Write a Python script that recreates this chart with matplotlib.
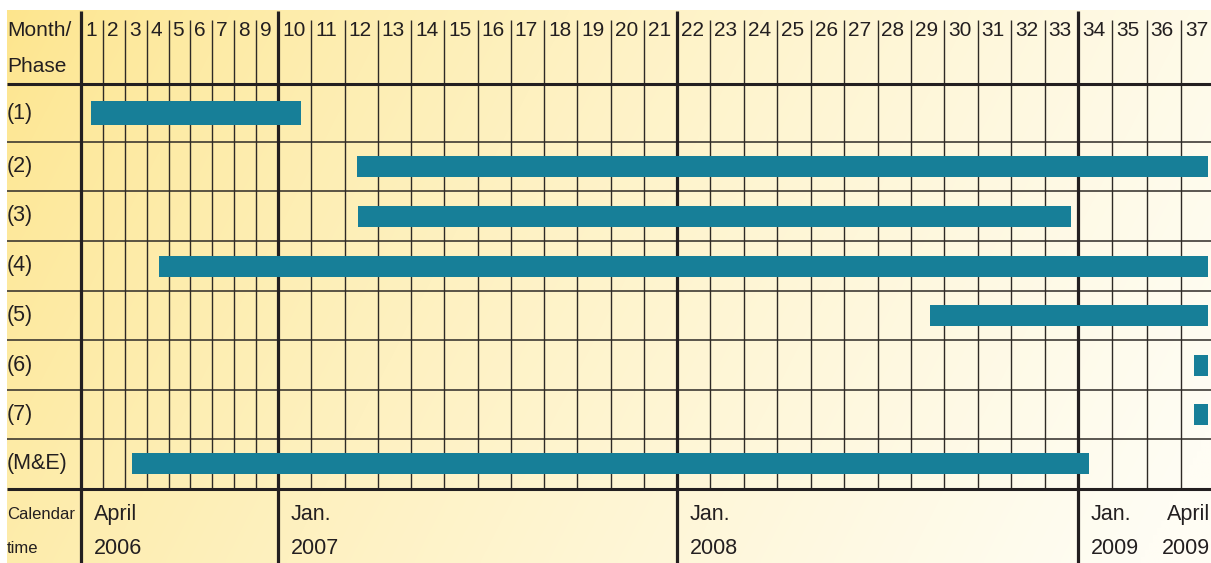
import numpy as np
import matplotlib
matplotlib.use('Agg')
import matplotlib.pyplot as plt
from matplotlib.transforms import offset_copy

# project phases, bars given in project months (month 1 spans 0..1)
phases = ['(1)', '(2)', '(3)', '(4)', '(5)', '(6)', '(7)', '(M&E)']
start_month = [0.46, 11.38, 11.41, 3.56, 28.57, 36.38, 36.38, 2.33]
end_month = [9.69, 36.81, 32.79, 36.81, 36.81, 36.81, 36.81, 33.32]

month_labels = [str(m) for m in range(1, 38)]
year_breaks = [0, 9, 21, 33]
calendar_pos = [0, 9, 21, 33, 37]
calendar_top = ['April', 'Jan.', 'Jan.', 'Jan.', 'April']
calendar_bottom = ['2006', '2007', '2008', '2009', '2009']

W, H = 1211, 563
BAR_COLOR = '#177f98'
LINE = '#231f20'
FONT = ['Liberation Sans', 'DejaVu Sans']

# layout: months 1-9 are drawn narrower than the rest
x_knots = [-3, 0, 9, 21, 33, 37]
x_px = [7, 81, 278, 677, 1078, 1215]
# rows: header, 8 phases, calendar
y_knots = list(range(11))
y_px = [10, 84, 142, 191, 241, 291, 340, 390, 439, 489, 563]


def fwd_x(m):
    return np.interp(m, x_knots, x_px)


def inv_x(p):
    return np.interp(p, x_px, x_knots)


def fwd_y(r):
    return np.interp(r, y_knots, y_px)


def inv_y(p):
    return np.interp(p, y_px, y_knots)


fig = plt.figure(figsize=(W / 100, H / 100), dpi=100, facecolor='white')
pos = [7 / W, 0, (W - 7) / W, (H - 10) / H]

# yellow gradient background
bg = fig.add_axes(pos, zorder=0)
bg.set_axis_off()
xx, yy = np.meshgrid(np.linspace(0, 1, 300), np.linspace(0, 1, 150))
t = np.clip(0.85 * xx + 0.2 * yy, 0, 1) ** 0.75
c0 = np.array([253, 229, 140]) / 255
c1 = np.array([255, 253, 244]) / 255
grad = c0[None, None, :] * (1 - t[..., None]) + c1[None, None, :] * t[..., None]
bg.imshow(grad, extent=[0, 1, 0, 1], aspect='auto', interpolation='bilinear')

ax = fig.add_axes(pos, zorder=1)
ax.patch.set_alpha(0)
ax.set_xscale('function', functions=(fwd_x, inv_x))
ax.set_yscale('function', functions=(fwd_y, inv_y))
x_right = inv_x(W)
ax.set_xlim(-3, x_right)
ax.set_ylim(10, 0)
ax.set_axis_off()

# grid
thin_months = [m for m in range(1, 37) if m not in year_breaks]
ax.vlines(thin_months, 0.135, 9, color='#2e2a26', lw=1.0, zorder=2)
ax.vlines(year_breaks, 0.01, 10, color=LINE, lw=2.3, zorder=3)
ax.hlines(range(2, 9), -3, x_right, color='#2e2a26', lw=1.1, zorder=2)
ax.hlines([1, 9], -3, x_right, color=LINE, lw=2.2, zorder=3)

# bars
rows = [i + 1.5 for i in range(len(phases))]
widths = [e - s for s, e in zip(start_month, end_month)]
ax.barh(rows, widths, left=start_month, height=0.42, color=BAR_COLOR, zorder=4)

# header
ytr = ax.get_yaxis_transform()
ax.text(0, 0.28, 'Month/', transform=ytr, ha='left', va='center',
        fontsize=15, family=FONT, color=LINE)
ax.text(0, 0.76, 'Phase', transform=ytr, ha='left', va='center',
        fontsize=15, family=FONT, color=LINE)
num_tr = offset_copy(ax.transData, fig=fig, x=4, y=0, units='dots')
for i, lab in enumerate(month_labels):
    ax.text(i, 0.28, lab, transform=num_tr, ha='left', va='center',
            fontsize=15, family=FONT, color=LINE)

# phase labels
for r, lab in zip(rows, phases):
    ax.text(0, r, lab, transform=ytr, ha='left', va='center',
            fontsize=15.5, family=FONT, color=LINE)

# calendar row
ax.text(0, 9.35, 'Calendar', transform=ytr, ha='left', va='center',
        fontsize=12, family=FONT, color=LINE)
ax.text(0, 9.80, 'time', transform=ytr, ha='left', va='center',
        fontsize=12, family=FONT, color=LINE)
left_tr = offset_copy(ax.transData, fig=fig, x=13, y=0, units='dots')
right_tr = offset_copy(ax.transData, fig=fig, x=-5, y=0, units='dots')
for p, top, bot in zip(calendar_pos, calendar_top, calendar_bottom):
    right = p == calendar_pos[-1]
    tr = right_tr if right else left_tr
    ha = 'right' if right else 'left'
    ax.text(p, 9.35, top, transform=tr, ha=ha, va='center',
            fontsize=15.5, family=FONT, color=LINE)
    ax.text(p, 9.80, bot, transform=tr, ha=ha, va='center',
            fontsize=15.5, family=FONT, color=LINE)

fig.savefig('out.png', dpi=100, facecolor='white')
